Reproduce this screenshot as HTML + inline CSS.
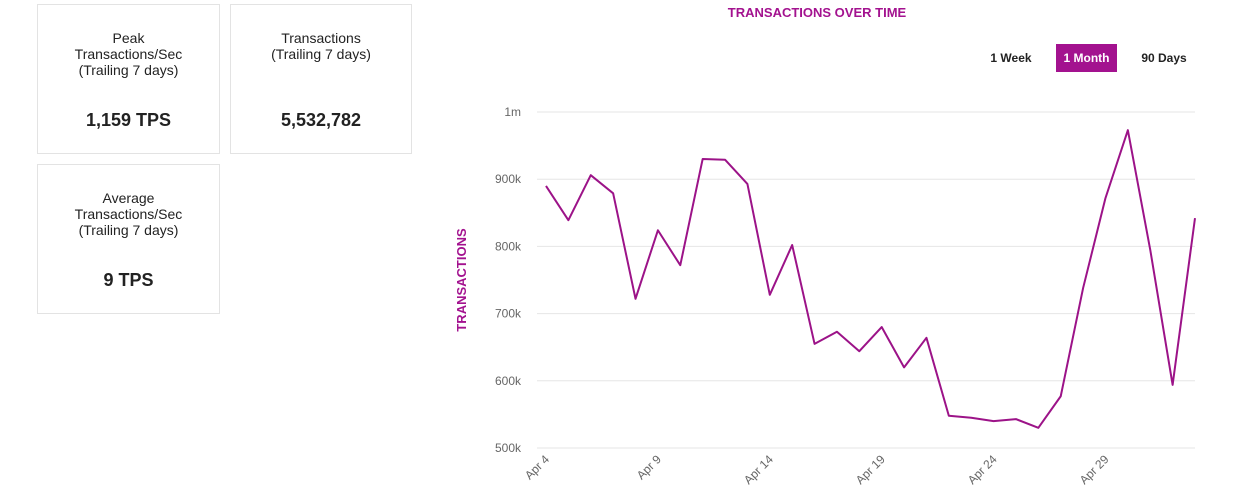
<!DOCTYPE html>
<html><head><meta charset="utf-8"><style>
body{margin:0;width:1237px;height:488px;background:#fff;font-family:"Liberation Sans",sans-serif;position:relative;overflow:hidden}
.card{position:absolute;border:1px solid #e3e3e3;box-sizing:border-box;text-align:center;color:#222}
.card .lbl{font-size:14px;line-height:16px;margin-top:25px}
.card .val{font-size:18px;font-weight:bold;position:absolute;left:0;right:0;top:105px}
.btn{position:absolute;top:44px;height:28px;line-height:28px;font-size:12px;font-weight:bold;text-align:center;color:#222}
</style></head><body>
<div class="card" style="left:37px;top:4px;width:183px;height:150px"><div class="lbl">Peak<br>Transactions/Sec<br>(Trailing 7 days)</div><div class="val">1,159 TPS</div></div>
<div class="card" style="left:230px;top:4px;width:182px;height:150px"><div class="lbl">Transactions<br>(Trailing 7 days)</div><div class="val">5,532,782</div></div>
<div class="card" style="left:37px;top:164px;width:183px;height:150px"><div class="lbl">Average<br>Transactions/Sec<br>(Trailing 7 days)</div><div class="val">9 TPS</div></div>
<div style="position:absolute;left:617px;width:400px;top:5px;text-align:center;font-size:13px;font-weight:bold;color:#a3128f">TRANSACTIONS OVER TIME</div>
<div class="btn" style="left:982px;width:58px">1 Week</div>
<div class="btn" style="left:1056px;width:61px;background:#a3128f;color:#fff">1 Month</div>
<div class="btn" style="left:1133px;width:62px">90 Days</div>
<svg id="chart" width="1237" height="488" style="position:absolute;left:0;top:0"></svg>
<script>
const categories=["Apr 4","Apr 5","Apr 6","Apr 7","Apr 8","Apr 9","Apr 10","Apr 11","Apr 12","Apr 13","Apr 14","Apr 15","Apr 16","Apr 17","Apr 18","Apr 19","Apr 20","Apr 21","Apr 22","Apr 23","Apr 24","Apr 25","Apr 26","Apr 27","Apr 28","Apr 29","Apr 30","May 1","May 2","May 3"];
const values=[890000,839000,906000,879000,722000,824000,772000,930000,929000,893000,728000,802000,655000,673000,644000,680000,620000,664000,548000,545000,540000,543000,530000,577000,738000,872000,973000,795000,594000,842000];
const yTicks=[500000,600000,700000,800000,900000,1000000];
const yTickLabels=["500k","600k","700k","800k","900k","1m"];
const xTickLabels=["Apr 4","Apr 9","Apr 14","Apr 19","Apr 24","Apr 29"];
const svg=document.getElementById('chart');const NS='http://www.w3.org/2000/svg';
const x0=546,x1=1195,yTop=112,yBot=448,yMin=500000,yMax=1000000;
const xs=i=>x0+(x1-x0)*i/(categories.length-1);
const ys=v=>yBot-(v-yMin)/(yMax-yMin)*(yBot-yTop);
function mk(t,a){const e=document.createElementNS(NS,t);for(const k in a)e.setAttribute(k,a[k]);svg.appendChild(e);return e;}
yTicks.forEach((v,i)=>{
 const l=mk('line',{x1:537,x2:1195,y1:ys(v),y2:ys(v),stroke:'#e6e6e6','stroke-width':1});
 
 
 const t=mk('text',{x:521,y:ys(v)+4,'text-anchor':'end','font-size':12,fill:'#666','font-family':'Liberation Sans, sans-serif'});
 t.textContent=yTickLabels[i];
 
 
});
xTickLabels.forEach(lab=>{
 const i=categories.indexOf(lab);const x=xs(i);
 const t=mk('text',{x:x+4,y:460,'text-anchor':'end','font-size':12,fill:'#666','font-family':'Liberation Sans, sans-serif',transform:`rotate(-45 ${x+4} 460)`});
 t.textContent=lab;
 
 
});
const yt=mk('text',{x:466,y:280,'text-anchor':'middle','font-size':13,'font-weight':'bold',fill:'#a3128f','font-family':'Liberation Sans, sans-serif',transform:'rotate(-90 466 280)'});
yt.textContent='TRANSACTIONS';


const p=mk('polyline',{points:values.map((v,i)=>xs(i)+','+ys(v)).join(' '),fill:'none',stroke:'#9c1388','stroke-width':2,'stroke-linejoin':'round'});


</script>
</body></html>
